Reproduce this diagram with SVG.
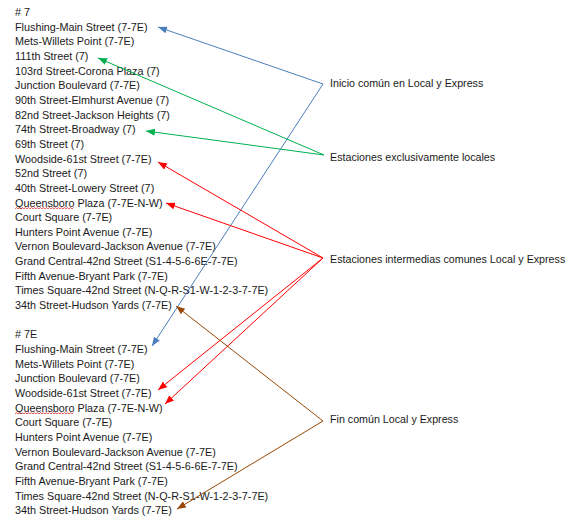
<svg xmlns="http://www.w3.org/2000/svg" width="583" height="526" viewBox="0 0 583 526">
  <style>
    text { font-family: "Liberation Sans", Arial, sans-serif; font-size: 10.8px; fill: #1a1a1a; }
    .lbl { font-size: 10.7px; }
    .wire { fill: none; stroke-width: 1; }
    .blue { stroke: #4a7ebb; }
    .green { stroke: #00b050; }
    .red { stroke: #ff0000; }
    .brown { stroke: #984807; }
    .spell { fill: none; stroke: #e03030; stroke-width: 0.8; }
  </style>
  <defs>
    <marker id="ahBlue" markerUnits="userSpaceOnUse" markerWidth="9" markerHeight="7" refX="9" refY="3.5" orient="auto"><path d="M0,0 L9,3.5 L0,7 z" fill="#4a7ebb"/></marker>
    <marker id="ahGreen" markerUnits="userSpaceOnUse" markerWidth="9" markerHeight="7" refX="9" refY="3.5" orient="auto"><path d="M0,0 L9,3.5 L0,7 z" fill="#00b050"/></marker>
    <marker id="ahRed" markerUnits="userSpaceOnUse" markerWidth="9" markerHeight="7" refX="9" refY="3.5" orient="auto"><path d="M0,0 L9,3.5 L0,7 z" fill="#ff0000"/></marker>
    <marker id="ahBrown" markerUnits="userSpaceOnUse" markerWidth="9" markerHeight="7" refX="9" refY="3.5" orient="auto"><path d="M0,0 L9,3.5 L0,7 z" fill="#984807"/></marker>
  </defs>
  <rect width="583" height="526" fill="#ffffff"/>

  <!-- Line 7 (local) station list -->
  <g id="list-7">
    <g id="l7-title"><text x="15" y="16">#  7</text></g>
    <g id="l7-01"><text x="15" y="30.7">Flushing-Main Street (7-7E)</text></g>
    <g id="l7-02"><text x="15" y="45.3">Mets-Willets Point (7-7E)</text></g>
    <g id="l7-03"><text x="15" y="60">111th Street (7)</text></g>
    <g id="l7-04"><text x="15" y="74.6">103rd Street-Corona Plaza (7)</text></g>
    <g id="l7-05"><text x="15" y="89.3">Junction Boulevard (7-7E)</text></g>
    <g id="l7-06"><text x="15" y="103.9">90th Street-Elmhurst Avenue (7)</text></g>
    <g id="l7-07"><text x="15" y="118.6">82nd Street-Jackson Heights (7)</text></g>
    <g id="l7-08"><text x="15" y="133.2">74th Street-Broadway (7)</text></g>
    <g id="l7-09"><text x="15" y="147.9">69th Street (7)</text></g>
    <g id="l7-10"><text x="15" y="162.5">Woodside-61st Street (7-7E)</text></g>
    <g id="l7-11"><text x="15" y="177.2">52nd Street (7)</text></g>
    <g id="l7-12"><text x="15" y="191.8">40th Street-Lowery Street (7)</text></g>
    <g id="l7-13"><text x="15" y="206.5">Queensboro Plaza (7-7E-N-W)</text>
      <path class="spell" d="M15,208.8 l1.5,-1.2 l1.5,1.2 l1.5,-1.2 l1.5,1.2 l1.5,-1.2 l1.5,1.2 l1.5,-1.2 l1.5,1.2 l1.5,-1.2 l1.5,1.2 l1.5,-1.2 l1.5,1.2 l1.5,-1.2 l1.5,1.2 l1.5,-1.2 l1.5,1.2 l1.5,-1.2 l1.5,1.2 l1.5,-1.2 l1.5,1.2 l1.5,-1.2 l1.5,1.2 l1.5,-1.2 l1.5,1.2 l1.5,-1.2 l1.5,1.2 l1.5,-1.2 l1.5,1.2 l1.5,-1.2 l1.5,1.2 l1.5,-1.2 l1.5,1.2 l1.5,-1.2 l1.5,1.2 l1.5,-1.2 l1.5,1.2 l1.5,-1.2 l1.5,1.2 l1.5,-1.2"/></g>
    <g id="l7-14"><text x="15" y="221.1">Court Square (7-7E)</text></g>
    <g id="l7-15"><text x="15" y="235.8">Hunters Point Avenue (7-7E)</text></g>
    <g id="l7-16"><text x="15" y="250.4">Vernon Boulevard-Jackson Avenue (7-7E)</text></g>
    <g id="l7-17"><text x="15" y="265.1">Grand Central-42nd Street (S1-4-5-6-6E-7-7E)</text></g>
    <g id="l7-18"><text x="15" y="279.7">Fifth Avenue-Bryant Park (7-7E)</text></g>
    <g id="l7-19"><text x="15" y="294.4">Times Square-42nd Street (N-Q-R-S1-W-1-2-3-7-7E)</text></g>
    <g id="l7-20"><text x="15" y="309">34th Street-Hudson Yards (7-7E)</text></g>
  </g>

  <!-- Line 7E (express) station list -->
  <g id="list-7e">
    <g id="l7e-title"><text x="15" y="338.3">#  7E</text></g>
    <g id="l7e-01"><text x="15" y="353">Flushing-Main Street (7-7E)</text></g>
    <g id="l7e-02"><text x="15" y="367.6">Mets-Willets Point (7-7E)</text></g>
    <g id="l7e-03"><text x="15" y="382.3">Junction Boulevard (7-7E)</text></g>
    <g id="l7e-04"><text x="15" y="396.9">Woodside-61st Street (7-7E)</text></g>
    <g id="l7e-05"><text x="15" y="411.6">Queensboro Plaza (7-7E-N-W)</text>
      <path class="spell" d="M15,413.9 l1.5,-1.2 l1.5,1.2 l1.5,-1.2 l1.5,1.2 l1.5,-1.2 l1.5,1.2 l1.5,-1.2 l1.5,1.2 l1.5,-1.2 l1.5,1.2 l1.5,-1.2 l1.5,1.2 l1.5,-1.2 l1.5,1.2 l1.5,-1.2 l1.5,1.2 l1.5,-1.2 l1.5,1.2 l1.5,-1.2 l1.5,1.2 l1.5,-1.2 l1.5,1.2 l1.5,-1.2 l1.5,1.2 l1.5,-1.2 l1.5,1.2 l1.5,-1.2 l1.5,1.2 l1.5,-1.2 l1.5,1.2 l1.5,-1.2 l1.5,1.2 l1.5,-1.2 l1.5,1.2 l1.5,-1.2 l1.5,1.2 l1.5,-1.2 l1.5,1.2 l1.5,-1.2"/></g>
    <g id="l7e-06"><text x="15" y="426.2">Court Square (7-7E)</text></g>
    <g id="l7e-07"><text x="15" y="440.9">Hunters Point Avenue (7-7E)</text></g>
    <g id="l7e-08"><text x="15" y="455.5">Vernon Boulevard-Jackson Avenue (7-7E)</text></g>
    <g id="l7e-09"><text x="15" y="470.2">Grand Central-42nd Street (S1-4-5-6-6E-7-7E)</text></g>
    <g id="l7e-10"><text x="15" y="484.8">Fifth Avenue-Bryant Park (7-7E)</text></g>
    <g id="l7e-11"><text x="15" y="499.5">Times Square-42nd Street (N-Q-R-S1-W-1-2-3-7-7E)</text></g>
    <g id="l7e-12"><text x="15" y="514.1">34th Street-Hudson Yards (7-7E)</text></g>
  </g>

  <!-- Legend labels -->
  <g id="lbl-inicio"><text class="lbl" x="330" y="87">Inicio común en Local y Express</text></g>
  <g id="lbl-locales"><text class="lbl" x="330" y="160.5">Estaciones exclusivamente locales</text></g>
  <g id="lbl-intermedias"><text class="lbl" x="330" y="262.5">Estaciones intermedias comunes Local y Express</text></g>
  <g id="lbl-fin"><text class="lbl" x="330" y="422.5">Fin común Local y Express</text></g>

  <!-- Connectors from each label to its stations -->
  <g id="connectors">
    <line class="wire blue" x1="323" y1="84" x2="158" y2="27" marker-end="url(#ahBlue)"/>
    <line class="wire blue" x1="323" y1="84" x2="152" y2="346" marker-end="url(#ahBlue)"/>
    <line class="wire green" x1="324" y1="155" x2="98" y2="58" marker-end="url(#ahGreen)"/>
    <line class="wire green" x1="324" y1="155" x2="146" y2="131" marker-end="url(#ahGreen)"/>
    <line class="wire red" x1="323" y1="258" x2="158" y2="162" marker-end="url(#ahRed)"/>
    <line class="wire red" x1="323" y1="258" x2="166" y2="203" marker-end="url(#ahRed)"/>
    <line class="wire red" x1="323" y1="258" x2="158" y2="390" marker-end="url(#ahRed)"/>
    <line class="wire red" x1="323" y1="258" x2="165" y2="404" marker-end="url(#ahRed)"/>
    <line class="wire brown" x1="323" y1="421" x2="176" y2="306" marker-end="url(#ahBrown)"/>
    <line class="wire brown" x1="323" y1="421" x2="177" y2="509" marker-end="url(#ahBrown)"/>
  </g>
</svg>
